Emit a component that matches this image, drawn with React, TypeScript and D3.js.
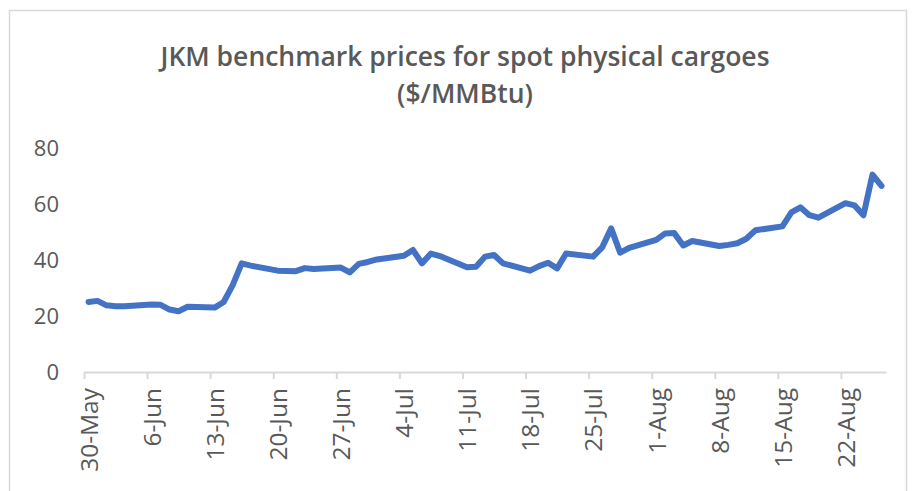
import React, { useEffect, useRef } from 'react';
import * as d3 from 'd3';

// business days, JKM assessment dates
const dates = [
  '2022-05-30', '2022-05-31',
  '2022-06-01', '2022-06-02', '2022-06-03',
  '2022-06-06', '2022-06-07', '2022-06-08', '2022-06-09', '2022-06-10',
  '2022-06-13', '2022-06-14', '2022-06-15', '2022-06-16', '2022-06-17',
  '2022-06-20', '2022-06-21', '2022-06-22', '2022-06-23', '2022-06-24',
  '2022-06-27', '2022-06-28', '2022-06-29', '2022-06-30', '2022-07-01',
  '2022-07-04', '2022-07-05', '2022-07-06', '2022-07-07', '2022-07-08',
  '2022-07-11', '2022-07-12', '2022-07-13', '2022-07-14', '2022-07-15',
  '2022-07-18', '2022-07-19', '2022-07-20', '2022-07-21', '2022-07-22',
  '2022-07-25', '2022-07-26', '2022-07-27', '2022-07-28', '2022-07-29',
  '2022-08-01', '2022-08-02', '2022-08-03', '2022-08-04', '2022-08-05',
  '2022-08-08', '2022-08-09', '2022-08-10', '2022-08-11', '2022-08-12',
  '2022-08-15', '2022-08-16', '2022-08-17', '2022-08-18', '2022-08-19',
  '2022-08-22', '2022-08-23', '2022-08-24', '2022-08-25', '2022-08-26',
];

const prices = [
  25.0, 25.4,
  23.8, 23.5, 23.5,
  24.1, 24.0, 22.3, 21.7, 23.3,
  23.0, 25.0, 31.0, 38.8, 38.0,
  36.2, 36.1, 36.0, 37.1, 36.8,
  37.3, 35.6, 38.6, 39.3, 40.2,
  41.5, 43.6, 38.8, 42.3, 41.4,
  37.4, 37.6, 41.2, 41.8, 38.8,
  36.2, 37.8, 39.0, 37.0, 42.3,
  41.2, 44.5, 51.3, 42.6, 44.3,
  47.2, 49.5, 49.6, 45.2, 46.8,
  45.0, 45.4, 46.0, 47.6, 50.6,
  52.0, 57.0, 58.8, 56.0, 55.1,
  60.3, 59.5, 56.0, 70.5, 66.5,
];

const tickDates = [
  '2022-05-30', '2022-06-06', '2022-06-13', '2022-06-20', '2022-06-27',
  '2022-07-04', '2022-07-11', '2022-07-18', '2022-07-25',
  '2022-08-01', '2022-08-08', '2022-08-15', '2022-08-22',
];
const yTicks = [0, 20, 40, 60, 80];

const titleLines = ['JKM benchmark prices for spot physical cargoes', '($/MMBtu)'];

const width = 912;
const height = 491;
const grey = '#595959';
const font = '"Open Sans", "Liberation Sans", sans-serif';

const App = () => {
  const svgRef = useRef(null);

  useEffect(() => {
    const svg = d3.select(svgRef.current);
    svg.selectAll('*').remove();

    const parse = d3.utcParse('%Y-%m-%d');
    const data = dates.map((d, i) => ({ date: d3.utcHour.offset(parse(d), 12), value: prices[i] }));

    // axis spans 30-May .. 27-Aug, points sit in the middle of each day
    const x = d3
      .scaleUtc()
      .domain([parse('2022-05-30'), parse('2022-08-27')])
      .range([84, 886]);
    const y = d3.scaleLinear().domain([0, 80]).range([372, 148]);

    // chart frame
    svg
      .append('rect')
      .attr('x', 9.5)
      .attr('y', 10.5)
      .attr('width', 897)
      .attr('height', 520)
      .attr('fill', '#fff')
      .attr('stroke', '#d9d9d9')
      .attr('stroke-width', 1.5);

    // title
    svg
      .selectAll('.title')
      .data(titleLines)
      .join('text')
      .attr('class', 'title')
      .attr('x', 465)
      .attr('y', (d, i) => 66 + i * 37)
      .attr('text-anchor', 'middle')
      .attr('font-family', font)
      .attr('font-weight', 600)
      .attr('font-size', 26.5)
      .attr('fill', grey)
      .text((d) => d);

    // y labels only, no axis line
    svg
      .selectAll('.y-label')
      .data(yTicks)
      .join('text')
      .attr('class', 'y-label')
      .attr('x', 59)
      .attr('y', (d) => y(d))
      .attr('dy', '0.36em')
      .attr('text-anchor', 'end')
      .attr('font-family', font)
      .attr('font-size', 22)
      .attr('fill', grey)
      .text((d) => d);

    // x axis
    const fmt = d3.utcFormat('%-d-%b');
    const xAxis = d3
      .axisBottom(x)
      .tickValues(tickDates.map((d) => parse(d)))
      .tickSize(7)
      .tickSizeOuter(0)
      .tickFormat(() => '');
    const gx = svg.append('g').attr('transform', `translate(0, ${y(0)})`).call(xAxis);
    gx.select('.domain').attr('stroke', '#d9d9d9').attr('stroke-width', 2);
    gx.selectAll('.tick line').attr('stroke', '#d9d9d9').attr('stroke-width', 2);

    svg
      .selectAll('.x-label')
      .data(tickDates)
      .join('text')
      .attr('class', 'x-label')
      .attr('transform', (d) => `translate(${x(parse(d)) + 5}, 388) rotate(-90)`)
      .attr('dy', '0.36em')
      .attr('text-anchor', 'end')
      .attr('font-family', font)
      .attr('font-size', 24.5)
      .attr('fill', grey)
      .text((d) => fmt(parse(d)));

    // price line
    const line = d3
      .line()
      .x((d) => x(d.date))
      .y((d) => y(d.value));
    svg
      .append('path')
      .datum(data)
      .attr('d', line)
      .attr('fill', 'none')
      .attr('stroke', '#4472C4')
      .attr('stroke-width', 6)
      .attr('stroke-linejoin', 'round')
      .attr('stroke-linecap', 'round');
  }, []);

  return (
    <svg
      ref={svgRef}
      width={width}
      height={height}
      style={{ position: 'absolute', left: 0, top: 0, background: '#fff' }}
    />
  );
};

export default App;
